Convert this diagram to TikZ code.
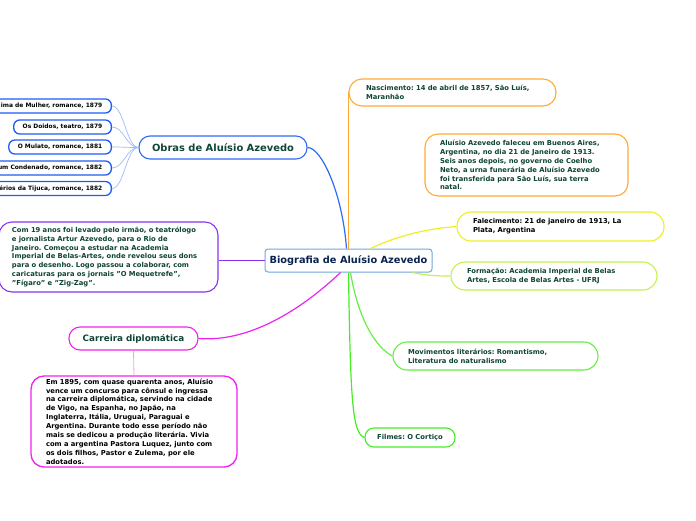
\documentclass[tikz,border=0pt]{standalone}
\usepackage{fontspec}
\setmainfont{DejaVu Sans}
\frenchspacing
\definecolor{txtg}{HTML}{0F4535}
\definecolor{navy}{HTML}{0A2350}
\definecolor{cblue}{HTML}{6FA8DC}
\definecolor{oblue}{HTML}{2E6BF5}
\definecolor{wblue}{HTML}{1F5CF5}
\definecolor{lblue}{HTML}{9DBBFF}
\definecolor{purp}{HTML}{8833EE}
\definecolor{mag}{HTML}{EE22EE}
\definecolor{lmag}{HTML}{F0A0F0}
\definecolor{orng}{HTML}{FFAA33}
\definecolor{yell}{HTML}{EEEE22}
\definecolor{ygreen}{HTML}{C4F050}
\definecolor{grn}{HTML}{66EE44}
\definecolor{grn2}{HTML}{44EE22}
\begin{document}
\begin{tikzpicture}[x=1pt,y=-1pt,
  box/.style={draw, line width=1.1pt, fill=white, text=txtg, align=left,
    font=\fontsize{6.8}{8.9}\selectfont\bfseries, inner ysep=0pt},
  work/.style={draw=wblue, line width=1.3pt, fill=white, text=black,
    font=\fontsize{5.95}{7}\selectfont\bfseries, inner xsep=9pt, inner ysep=0pt,
    minimum height=14pt, rounded corners=6pt, anchor=east},
  conn/.style={line width=1.2pt},
  wconn/.style={draw=lblue, line width=0.7pt}
]
\useasboundingbox (0,0) rectangle (696,520);
\clip (0,0) rectangle (696,520);

% central node
\node[draw=cblue, line width=1pt, rounded corners=3pt, fill=white, text=navy,
  font=\fontsize{9.8}{11}\selectfont\bfseries, minimum width=167pt, minimum height=23pt, inner sep=0pt]
  (c) at (348.5,260.5) {Biografia de Aluísio Azevedo};

% Obras
\node[draw=oblue, line width=1.1pt, rounded corners=11pt, fill=white, text=txtg,
  font=\fontsize{9.9}{11}\selectfont\bfseries, minimum width=168pt, minimum height=23pt, inner sep=0pt]
  (obras) at (223,147.5) {Obras de Aluísio Azevedo};

\node[work] (w1) at (112,106) {ima de Mulher, romance, 1879};
\node[work] (w2) at (112,127) {Os Doidos, teatro, 1879};
\node[work] (w3) at (112,147) {O Mulato, romance, 1881};
\node[work] (w4) at (112,168) {um Condenado, romance, 1882};
\node[work] (w5) at (112,188.5) {érios da Tijuca, romance, 1882};

% purple
\node[box, draw=purp, rounded corners=13pt, inner xsep=13pt, text width=193pt, minimum height=70pt]
  (pu) at (108.5,257) {Com 19 anos foi levado pelo irmão, o teatrólogo\\
e jornalista Artur Azevedo, para o Rio de\\
Janeiro. Começou a estudar na Academia\\
Imperial de Belas-Artes, onde revelou seus dons\\
para o desenho. Logo passou a colaborar, com\\
caricaturas para os jornais "O Mequetrefe",\\
"Fígaro" e "Zig-Zag".};

% Carreira
\node[draw=mag, line width=1.1pt, rounded corners=11pt, fill=white, text=txtg,
  font=\fontsize{8.8}{10}\selectfont\bfseries, minimum width=129pt, minimum height=23pt, inner sep=0pt]
  (carr) at (133.5,338.5) {Carreira diplomática};

\node[box, draw=mag, text=black, line width=1.3pt, rounded corners=13pt, inner xsep=15pt, text width=176pt, minimum height=91pt]
  (ch) at (134,421.5) {Em 1895, com quase quarenta anos, Aluísio\\
vence um concurso para cônsul e ingressa\\
na carreira diplomática, servindo na cidade\\
de Vigo, na Espanha, no Japão, na\\
Inglaterra, Itália, Uruguai, Paraguai e\\
Argentina. Durante todo esse período não\\
mais se dedicou a produção literária. Vivia\\
com a argentina Pastora Luquez, junto com\\
os dois filhos, Pastor e Zulema, por ele\\
adotados.};

% right side
\node[box, draw=orng, rounded corners=13pt, inner xsep=17pt, text width=173pt, minimum height=27pt]
  (nasc) at (452.5,92.5) {Nascimento: 14 de abril de 1857, São Luís,\\ Maranhão};

\node[box, draw=orng, rounded corners=13pt, inner xsep=15pt, text width=173pt, minimum height=62pt]
  (fac) at (526.5,165) {Aluísio Azevedo faleceu em Buenos Aires,\\
Argentina, no dia 21 de Janeiro de 1913.\\
Seis anos depois, no governo de Coelho\\
Neto, a urna funerária de Aluísio Azevedo\\
foi transferida para São Luís, sua terra\\
natal.};

\node[box, draw=yell, text=black, rounded corners=14pt, inner xsep=16pt, text width=175pt, minimum height=29pt]
  (fal) at (560.5,226.5) {Falecimento: 21 de janeiro de 1913, La\\ Plata, Argentina};

\node[box, draw=ygreen, rounded corners=14pt, inner xsep=16pt, text width=174pt, minimum height=28pt]
  (form) at (554,276) {Formação: Academia Imperial de Belas\\ Artes, Escola de Belas Artes - UFRJ};

\node[box, draw=grn, rounded corners=14pt, inner xsep=15pt, text width=175pt, minimum height=28pt]
  (mov) at (495.5,356) {Movimentos literários: Romantismo,\\ Literatura do naturalismo};

\node[box, draw=grn2, rounded corners=9pt, inner xsep=10pt, minimum width=90pt, minimum height=19pt]
  (film) at (410,437.5) {Filmes: O Cortiço};

% connectors
\draw[conn, draw=oblue] (obras.east) .. controls +(14,0) and +(-4,-55) .. ([xshift=-2pt]c.north);
\foreach \w in {w1,w2,w3,w4,w5}
  \draw[wconn] (obras.west) .. controls +(-12,0) and +(12,0) .. (\w.east);
\draw[conn, draw=purp] (c.west) -- (c.west -| pu.east);
\draw[conn, draw=mag] ([xshift=-8pt]c.south) .. controls +(-40,38) and +(50,4) .. (carr.east);
\draw[line width=0.8pt, draw=lmag] (carr.south) -- (ch.north);
\draw[conn, draw=orng] (c.north) |- (nasc.west);
\draw[conn, draw=yell] ([xshift=22pt]c.north) .. controls +(25,-12) and +(-30,2) .. (fal.west);
\draw[conn, draw=ygreen] ([xshift=-20pt]c.south east) .. controls +(15,3) and +(-15,0) .. (form.west);
\draw[conn, draw=grn] ([xshift=2pt]c.south) .. controls +(8,48) and +(-16,-8) .. (mov.west);
\draw[conn, draw=grn2] (c.south) .. controls +(2,130) and +(-12,-4) .. (film.west);
\end{tikzpicture}
\end{document}
